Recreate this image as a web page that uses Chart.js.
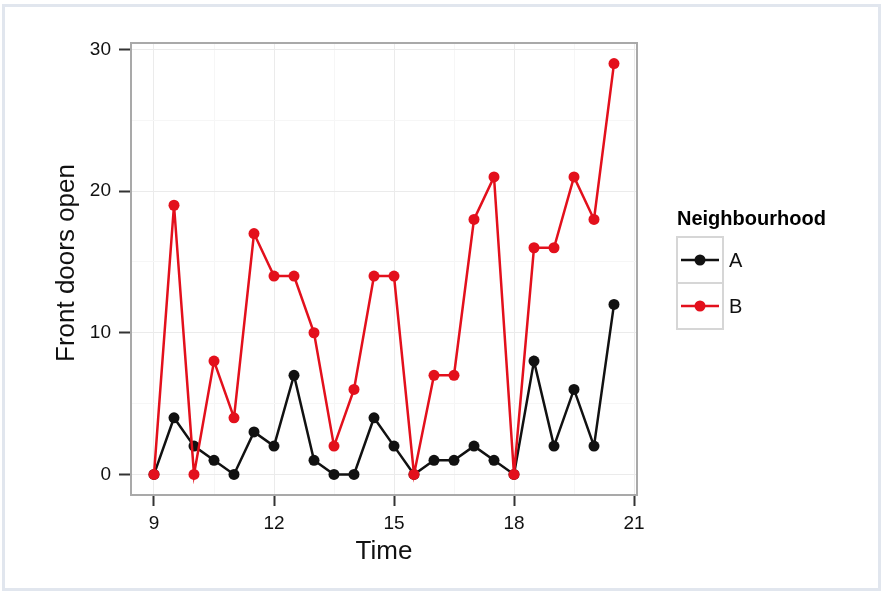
<!DOCTYPE html>
<html>
<head>
<meta charset="utf-8">
<script src="https://cdn.jsdelivr.net/npm/chart.js@4"></script>
<style>
  html, body { margin: 0; padding: 0; background: #fff; }
  #wrap { position: relative; width: 882px; height: 591px; }
</style>
</head>
<body>
<div id="wrap"><canvas id="myChart" width="882" height="591"></canvas></div>
<script>
// time of day (x values)
var times = [9, 9.5, 10, 10.5, 11, 11.5, 12, 12.5, 13, 13.5, 14, 14.5,
             15, 15.5, 16, 16.5, 17, 17.5, 18, 18.5, 19, 19.5, 20, 20.5];

// front doors open per neighbourhood
var hoodA = [0, 4, 2, 1, 0, 3, 2, 7, 1, 0, 0, 4, 2, 0, 1, 1, 2, 1, 0, 8, 2, 6, 2, 12];
var hoodB = [0, 19, 0, 8, 4, 17, 14, 14, 10, 2, 6, 14, 14, 0, 7, 7, 18, 21, 0, 16, 16, 21, 18, 29];

// axis ticks
var xMajor = [9, 12, 15, 18, 21];
var xMinor = [10.5, 13.5, 16.5, 19.5];
var yMajor = [0, 10, 20, 30];
var yMinor = [5, 15, 25];

var FONT = "'Liberation Sans', Arial, sans-serif";

function pairs(xs, ys) {
  return xs.map(function (x, i) { return { x: x, y: ys[i] }; });
}

function setTicks(major, minor) {
  return function (scale) {
    scale.ticks = major.concat(minor).sort(function (a, b) { return a - b; })
      .map(function (v) { return { value: v, major: major.indexOf(v) >= 0 }; });
  };
}

// panel border, outer frame, y title and ggplot-like legend
var ggExtras = {
  id: 'ggExtras',
  beforeDraw: function (chart) {
    var c = chart.ctx;
    c.save();
    c.fillStyle = '#fff';
    c.fillRect(0, 0, chart.width, chart.height);
    c.strokeStyle = '#e1e6ee';
    c.lineWidth = 3;
    c.strokeRect(3.5, 5.5, chart.width - 6, chart.height - 7);
    c.restore();
  },
  afterDraw: function (chart) {
    var c = chart.ctx, a = chart.chartArea;
    c.save();
    c.strokeStyle = '#a9a9a9';
    c.lineWidth = 2;
    c.strokeRect(a.left, a.top, a.right - a.left, a.bottom - a.top);

    // y axis title
    c.save();
    c.translate(67, 263);
    c.rotate(-Math.PI / 2);
    c.fillStyle = '#111';
    c.font = '26px ' + FONT;
    c.textAlign = 'center';
    c.textBaseline = 'middle';
    c.fillText('Front doors open', 0, 0);
    c.restore();

    // legend
    var lx = 677, ly = 237, key = 46;
    c.fillStyle = '#000';
    c.font = 'bold 20px ' + FONT;
    c.textBaseline = 'alphabetic';
    c.fillText('Neighbourhood', lx, 225);
    chart.data.datasets.forEach(function (ds, i) {
      var top = ly + i * key;
      c.strokeStyle = '#d6d6d6';
      c.lineWidth = 2;
      c.strokeRect(lx, top, key, key);
      var cy = top + key / 2;
      c.strokeStyle = ds.borderColor;
      c.lineWidth = 2.5;
      c.beginPath();
      c.moveTo(lx + 4, cy);
      c.lineTo(lx + key - 4, cy);
      c.stroke();
      c.fillStyle = ds.borderColor;
      c.beginPath();
      c.arc(lx + key / 2, cy, 5.5, 0, Math.PI * 2);
      c.fill();
      c.fillStyle = '#111';
      c.font = '20px ' + FONT;
      c.textBaseline = 'middle';
      c.fillText(ds.label, lx + key + 6, cy + 1);
    });
    c.restore();
  }
};

var ctx = document.getElementById('myChart');
var myChart = new Chart(ctx, {
  type: 'line',
  data: {
    datasets: [
      {
        label: 'A',
        data: pairs(times, hoodA),
        borderColor: '#111111',
        backgroundColor: '#111111',
        borderWidth: 2.5,
        pointRadius: 5.5,
        pointBorderWidth: 0,
        tension: 0,
        order: 1
      },
      {
        label: 'B',
        data: pairs(times, hoodB),
        borderColor: '#e3101c',
        backgroundColor: '#e3101c',
        borderWidth: 2.5,
        pointRadius: 5.5,
        pointBorderWidth: 0,
        tension: 0,
        order: 0
      }
    ]
  },
  options: {
    responsive: false,
    animation: false,
    layout: { padding: { top: 43, right: 245, left: 0, bottom: 0 } },
    plugins: { legend: { display: false }, tooltip: { enabled: false } },
    scales: {
      x: {
        type: 'linear',
        min: 8.425,
        max: 21.075,
        afterBuildTicks: setTicks(xMajor, xMinor),
        afterFit: function (s) { s.height = 96; },
        border: { display: false },
        grid: {
          color: function (c) { return c.tick && c.tick.major ? '#ebebeb' : '#f6f6f6'; },
          lineWidth: 1,
          tickLength: 11,
          tickColor: function (c) { return c.tick && c.tick.major ? '#333' : 'rgba(0,0,0,0)'; },
          tickWidth: 2
        },
        ticks: {
          autoSkip: false,
          maxRotation: 0,
          padding: 6,
          color: '#111',
          font: { family: FONT, size: 19 },
          callback: function (v) { return xMajor.indexOf(v) >= 0 ? String(v) : ''; }
        },
        title: {
          display: true,
          text: 'Time',
          color: '#111',
          font: { family: FONT, size: 26 },
          padding: { top: 0, bottom: 24 }
        }
      },
      y: {
        type: 'linear',
        min: -1.45,
        max: 30.45,
        afterBuildTicks: setTicks(yMajor, yMinor),
        afterFit: function (s) { s.width = 131; },
        border: { display: false },
        grid: {
          color: function (c) { return c.tick && c.tick.major ? '#ebebeb' : '#f6f6f6'; },
          lineWidth: 1,
          tickLength: 12,
          tickColor: function (c) { return c.tick && c.tick.major ? '#333' : 'rgba(0,0,0,0)'; },
          tickWidth: 2
        },
        ticks: {
          autoSkip: false,
          padding: 8,
          color: '#111',
          font: { family: FONT, size: 19 },
          callback: function (v) { return yMajor.indexOf(v) >= 0 ? String(v) : ''; }
        },
        title: { display: false }
      }
    }
  },
  plugins: [ggExtras]
});
</script>
</body>
</html>
